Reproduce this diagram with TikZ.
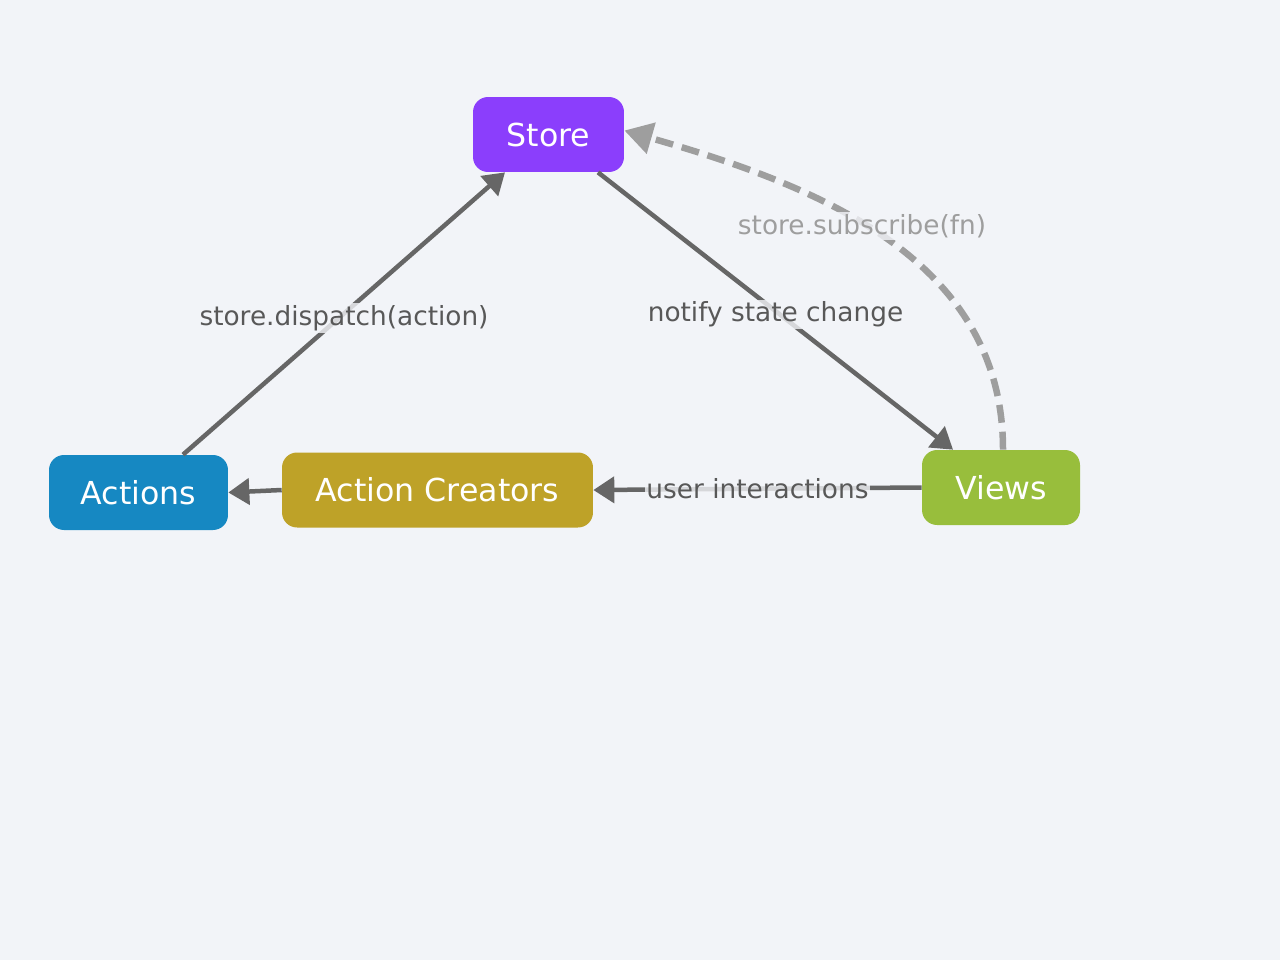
\documentclass[tikz,border=0pt]{standalone}
\usepackage{fontspec}
\setmainfont{DejaVu Sans}
\usetikzlibrary{arrows.meta}

\definecolor{bgcol}{RGB}{242,244,248}
\definecolor{storecol}{RGB}{139,62,252}
\definecolor{actcol}{RGB}{22,136,194}
\definecolor{accol}{RGB}{190,162,40}
\definecolor{viewcol}{RGB}{152,190,60}
\definecolor{linecol}{RGB}{102,102,102}
\definecolor{labelcol}{RGB}{88,88,88}
\definecolor{subcol}{RGB}{158,158,158}

\begin{document}
\begin{tikzpicture}[x=0.02cm,y=-0.02cm,
  box/.style={rounded corners=0.3cm, text=white, inner sep=0pt,
    minimum height=1.5cm, font=\fontsize{18}{22}\selectfont},
  link/.style={draw=linecol, line width=0.09cm,
    -{Triangle[length=0.42cm,width=0.52cm]}},
  sublink/.style={draw=subcol, line width=0.13cm, dash pattern=on 0.36cm off 0.18cm,
    -{Triangle[length=0.56cm,width=0.62cm]}},
  lbl/.style={text=labelcol, fill=bgcol, fill opacity=0.8, text opacity=1,
    inner sep=1pt, font=\fontsize{15}{18}\selectfont}]
\fill [bgcol] (0,0) rectangle (1280,960);
\useasboundingbox (0,0) rectangle (1280,960);
% boxes
\node [box, fill=storecol, minimum width=3.02cm] (store) at (548.5,134.5) {Store};
\node [box, fill=actcol, minimum width=3.58cm] (act) at (138.5,492.5) {Actions};
\node [box, fill=accol, minimum width=6.22cm] (ac) at (437.5,490) {Action Creators};
\node [box, fill=viewcol, minimum width=3.16cm] (views) at (1001,487.5) {Views};
% connectors
\draw [link] ([xshift=0.89cm]act.north) -- ([xshift=-0.87cm]store.south)
  node [lbl, midway, yshift=-0.09cm] (ldispatch) {store.dispatch(action)};
\draw [link] ([xshift=0.99cm]store.south) -- ([xshift=-0.96cm]views.north)
  node [lbl, midway, yshift=-0.07cm] (lnotify) {notify state change};
\draw [link] (views.west) -- (ac.east)
  node [lbl, midway] (luser) {user interactions};
\draw [link] (ac.west) -- (act.east);
\draw [sublink] ([xshift=0.04cm]views.north) to [out=90, in=-16] ([yshift=0.08cm]store.east);
\node [lbl, text=subcol] (lsub) at (862,226) {store.subscribe(fn)};
\end{tikzpicture}
\end{document}
